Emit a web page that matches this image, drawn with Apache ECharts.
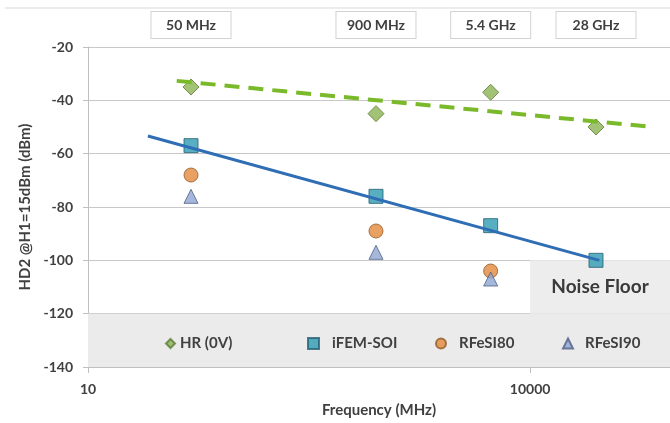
<!DOCTYPE html>
<html>
<head>
<meta charset="utf-8">
<script src="https://cdn.jsdelivr.net/npm/echarts@6/dist/echarts.min.js"></script>
<style>html,body{margin:0;padding:0;background:#fff}#c{width:670px;height:423px}</style>
</head>
<body>
<div id="c"></div>
<script>
// ---- data ----
var freqs = [50, 900, 5400, 28000];
var freqLabels = ['50 MHz', '900 MHz', '5.4 GHz', '28 GHz'];
var hr0v = [-35, -45, -37, -50];
var ifemSoi = [-57, -76, -87, -100];
var rfesi80 = [-68, -89, -104];
var rfesi90 = [-76, -97, -107];
var hrTrend = [[40, -32.7], [68000, -50]];
var ifemTrend = [[25.5, -53.4], [29500, -100]];
var yTicks = {min: -140, max: -20, interval: 20};
var xTickLabels = [10, 10000];
var xMin = 10, xMax = 89000;
var noiseFloor = {fromX: 10000, yLow: -120, yHigh: -100, label: 'Noise Floor'};
var legendBand = {yLow: -140, yHigh: -120};

function pairs(xs, ys) { return ys.map(function (y, i) { return [xs[i], y]; }); }

var FONT = 'Lato';
var TXT = '#404040';

var chart = echarts.init(document.getElementById('c'));
var tickStyle = {fontFamily: FONT, fontWeight: 'bold', fontSize: 14, color: TXT};
var legStyle = {fontFamily: FONT, fontWeight: 'bold', fontSize: 15, color: TXT};

var option = {
  animation: false,
  backgroundColor: '#fff',
  grid: {left: 88, right: 0, top: 47, bottom: 56},
  xAxis: [{
    type: 'log', min: xMin, max: xMax, logBase: 10,
    name: 'Frequency (MHz)', nameLocation: 'middle', nameGap: 36,
    nameTextStyle: {fontFamily: FONT, fontWeight: 'bold', fontSize: 15, color: TXT},
    axisLine: {show: true, lineStyle: {color: '#bfbfbf', width: 1}},
    axisTick: {show: true, length: 6, lineStyle: {color: '#bfbfbf'}, customValues: xTickLabels},
    axisLabel: Object.assign({margin: 15, customValues: xTickLabels,
      formatter: function (v) { return String(Math.round(v)); }}, tickStyle),
    splitLine: {show: false}, minorTick: {show: false}, minorSplitLine: {show: false}
  }, {
    type: 'log', min: xMin, max: xMax, logBase: 10, position: 'top',
    axisLine: {show: false}, axisTick: {show: false}, splitLine: {show: false},
    axisLabel: {
      customValues: freqs, margin: 9,
      formatter: function (v) {
        var best = 0, bd = Infinity;
        freqs.forEach(function (f, i) { var d = Math.abs(Math.log(f) - Math.log(v)); if (d < bd) { bd = d; best = i; } });
        return freqLabels[best];
      },
      fontFamily: FONT, fontWeight: 'bold', fontSize: 14, color: TXT,
      backgroundColor: '#fff', borderColor: '#d2d2d2', borderWidth: 1,
      width: 79, align: 'center', padding: [5, 0], lineHeight: 16
    }
  }],
  yAxis: {
    type: 'value', min: yTicks.min, max: yTicks.max, interval: yTicks.interval,
    name: 'HD2 @H1=15dBm (dBm)', nameLocation: 'middle', nameGap: 51, nameRotate: 90,
    nameTextStyle: {fontFamily: FONT, fontWeight: 'bold', fontSize: 15, color: TXT},
    axisLine: {show: true, lineStyle: {color: '#bfbfbf'}},
    axisTick: {show: true, length: 5, lineStyle: {color: '#bfbfbf'}},
    axisLabel: Object.assign({margin: 15}, tickStyle),
    splitLine: {show: true, lineStyle: {color: '#c8c8c8', width: 1}}
  },
  legend: [
    {data: ['HR (0V)'], left: 160, top: 331, itemWidth: 9, itemHeight: 9, textStyle: legStyle},
    {data: ['iFEM-SOI'], left: 302, top: 331, itemWidth: 11, itemHeight: 11, textStyle: Object.assign({padding: [0, 0, 0, 8]}, legStyle)},
    {data: ['RFeSI80'], left: 430, top: 331, itemWidth: 10, itemHeight: 10, textStyle: Object.assign({padding: [0, 0, 0, 8]}, legStyle)},
    {data: ['RFeSI90'], left: 557, top: 331, itemWidth: 10, itemHeight: 10, textStyle: Object.assign({padding: [0, 0, 0, 7]}, legStyle)}
  ],
  graphic: [{
    type: 'line', shape: {x1: 5, y1: 8, x2: 670, y2: 8}, style: {stroke: '#d9d9d9', lineWidth: 1}
  }],
  series: [
    {
      name: 'bands', type: 'line', data: [], silent: true,
      markArea: {
        silent: true,
        data: [
          [{coord: [xMin, legendBand.yLow], itemStyle: {color: '#ebebeb'}}, {coord: [xMax, legendBand.yHigh]}],
          [{coord: [noiseFloor.fromX, noiseFloor.yLow], itemStyle: {color: '#ededed'},
            label: {show: true, position: 'inside', formatter: noiseFloor.label, fontFamily: FONT, fontSize: 19, fontWeight: 'bold', color: '#3a3a3a'}},
           {coord: [xMax, noiseFloor.yHigh]}]
        ]
      }
    },
    {
      name: 'HR trend', type: 'line', data: hrTrend, showSymbol: false, silent: true,
      lineStyle: {color: '#7aba2a', width: 4, type: [15, 9]}
    },
    {
      name: 'HR (0V)', type: 'scatter', symbol: 'diamond', symbolSize: 16,
      data: pairs(freqs, hr0v),
      itemStyle: {color: '#8bb452', borderColor: '#5e7a35', borderWidth: 1}
    },
    {
      name: 'iFEM-SOI', type: 'scatter', symbol: 'rect', symbolSize: 14,
      data: pairs(freqs, ifemSoi),
      itemStyle: {color: '#2e9bb3', borderColor: '#245e72', borderWidth: 1}
    },
    {
      name: 'RFeSI80', type: 'scatter', symbol: 'circle', symbolSize: 14,
      data: pairs(freqs, rfesi80),
      itemStyle: {color: '#e38a3c', borderColor: '#925a26', borderWidth: 1}
    },
    {
      name: 'RFeSI90', type: 'scatter', symbol: 'triangle', symbolSize: 14,
      data: pairs(freqs, rfesi90),
      itemStyle: {color: '#8fa6d2', borderColor: '#4f5e86', borderWidth: 1}
    },
    {
      name: 'iFEM trend', type: 'line', data: ifemTrend, showSymbol: false, silent: true,
      lineStyle: {color: '#2f6db4', width: 3}
    }
  ]
};
chart.setOption(option);
</script>
</body>
</html>
